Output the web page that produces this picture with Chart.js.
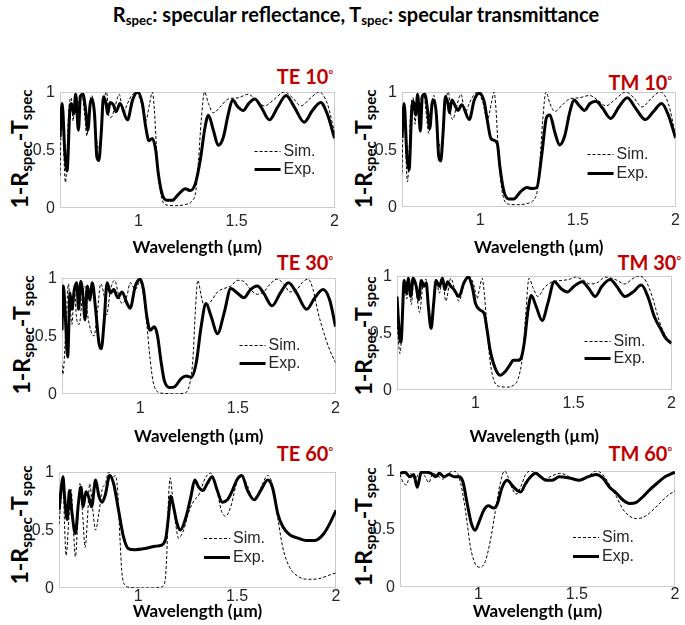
<!DOCTYPE html>
<html>
<head>
<meta charset="utf-8">
<script src="https://cdn.jsdelivr.net/npm/chart.js@4.4.1/dist/chart.umd.min.js"></script>
<style>
  html, body { margin: 0; padding: 0; background: #fff; }
  body { width: 685px; height: 625px; position: relative; overflow: hidden; }
  canvas { position: absolute; z-index: 2; }
  .txt { position: absolute; white-space: nowrap; color: #000; font-family: Lato, "Open Sans", sans-serif; font-weight: bold; z-index: 1; }
  .main { font-size: 20px; line-height: 24px; transform: translateX(-50%); }
  .main sub, .ylab sub { font-size: 0.66em; vertical-align: -0.25em; line-height: 0; }
  .ylab { font-size: 23px; line-height: 26px; transform: translate(-50%, -50%) rotate(-90deg); }
  .tag { color: #c00000; font-size: 20px; line-height: 24px; }
  .tag span { font-size: 11px; vertical-align: top; position: relative; top: -2px; }
  .ytick { position: absolute; z-index: 5; white-space: nowrap; font: 16px/18px "Liberation Sans", Arial, sans-serif; color: #262626; text-align: right; }
</style>
</head>
<body>
<div class="txt main" style="left:356px; top:2px;">R<sub>spec</sub>: specular reflectance, T<sub>spec</sub>: specular transmittance</div>
<script>
// wavelength (um), 1-Rspec-Tspec
const te10Sim = [[0.600,0.28],[0.609,0.85],[0.628,0.22],[0.645,0.85],[0.657,0.95],[0.667,0.75],[0.677,0.97],[0.689,0.80],[0.700,0.97],[0.712,0.98],[0.726,0.80],[0.737,0.62],[0.751,0.90],[0.764,0.97],[0.776,0.75],[0.790,0.55],[0.801,0.50],[0.813,0.70],[0.827,0.95],[0.838,1.00],[0.848,0.80],[0.860,0.78],[0.877,0.85],[0.902,0.98],[0.923,0.82],[0.944,0.90],[0.966,0.97],[0.987,1.00],[1.012,0.92],[1.037,0.75],[1.057,0.90],[1.071,1.00],[1.081,0.85],[1.091,0.55],[1.104,0.25],[1.121,0.07],[1.146,0.025],[1.189,0.02],[1.239,0.03],[1.273,0.06],[1.293,0.15],[1.306,0.40],[1.320,0.75],[1.337,1.00],[1.357,0.90],[1.382,0.82],[1.416,0.87],[1.458,0.94],[1.508,0.95],[1.559,0.98],[1.601,0.93],[1.643,0.88],[1.694,0.94],[1.744,1.00],[1.786,0.95],[1.828,0.88],[1.879,0.95],[1.921,1.00],[1.963,0.90],[2.000,0.65]];
const te10Exp = [[0.600,0.61],[0.611,0.90],[0.625,0.47],[0.636,0.32],[0.650,0.84],[0.658,0.90],[0.670,0.81],[0.680,0.98],[0.694,0.67],[0.704,0.96],[0.717,0.98],[0.731,0.84],[0.742,0.67],[0.754,0.90],[0.764,0.94],[0.776,0.81],[0.788,0.44],[0.798,0.41],[0.810,0.64],[0.822,0.96],[0.835,0.90],[0.843,0.81],[0.855,0.91],[0.872,0.89],[0.886,0.83],[0.906,0.90],[0.944,0.76],[0.970,0.93],[0.995,1.00],[1.020,0.90],[1.037,0.70],[1.054,0.58],[1.071,0.60],[1.088,0.50],[1.101,0.30],[1.121,0.12],[1.146,0.066],[1.172,0.066],[1.205,0.12],[1.239,0.167],[1.264,0.15],[1.290,0.21],[1.315,0.41],[1.340,0.70],[1.357,0.80],[1.382,0.67],[1.407,0.54],[1.433,0.61],[1.458,0.81],[1.480,0.93],[1.508,0.87],[1.534,0.84],[1.562,0.90],[1.593,0.94],[1.626,0.87],[1.668,0.76],[1.710,0.87],[1.753,0.97],[1.795,0.87],[1.845,0.74],[1.887,0.84],[1.929,0.91],[1.963,0.81],[2.000,0.60]];

const tm10Sim = [[0.600,0.30],[0.609,0.85],[0.628,0.22],[0.645,0.85],[0.657,0.95],[0.667,0.72],[0.677,0.97],[0.689,0.80],[0.700,0.97],[0.712,0.98],[0.726,0.78],[0.737,0.64],[0.751,0.90],[0.764,0.97],[0.776,0.75],[0.790,0.55],[0.801,0.50],[0.813,0.72],[0.827,0.95],[0.838,1.00],[0.848,0.82],[0.860,0.76],[0.877,0.86],[0.902,0.98],[0.923,0.82],[0.944,0.90],[0.966,0.97],[0.987,1.00],[1.012,0.92],[1.037,0.76],[1.057,0.90],[1.071,1.00],[1.081,0.85],[1.091,0.55],[1.104,0.25],[1.121,0.07],[1.146,0.025],[1.189,0.02],[1.239,0.03],[1.273,0.06],[1.293,0.15],[1.306,0.40],[1.320,0.75],[1.337,1.00],[1.357,0.90],[1.382,0.83],[1.416,0.88],[1.458,0.94],[1.508,0.95],[1.559,0.97],[1.601,0.93],[1.643,0.88],[1.694,0.94],[1.744,1.00],[1.786,0.95],[1.828,0.87],[1.879,0.95],[1.921,1.00],[1.963,0.90],[2.000,0.62]];
const tm10Exp = [[0.600,0.60],[0.611,0.90],[0.625,0.45],[0.636,0.32],[0.650,0.85],[0.658,0.92],[0.670,0.80],[0.680,0.98],[0.694,0.66],[0.704,0.96],[0.717,0.98],[0.731,0.84],[0.742,0.68],[0.754,0.90],[0.764,0.93],[0.776,0.80],[0.788,0.44],[0.798,0.40],[0.810,0.64],[0.822,0.96],[0.835,0.90],[0.843,0.82],[0.855,0.93],[0.872,0.88],[0.886,0.84],[0.906,0.89],[0.944,0.76],[0.970,0.93],[0.995,0.99],[1.020,0.92],[1.037,0.75],[1.054,0.60],[1.071,0.58],[1.088,0.55],[1.101,0.35],[1.121,0.14],[1.146,0.07],[1.172,0.07],[1.205,0.13],[1.239,0.17],[1.264,0.16],[1.290,0.17],[1.315,0.45],[1.340,0.78],[1.357,0.80],[1.382,0.65],[1.407,0.54],[1.433,0.62],[1.458,0.82],[1.480,0.93],[1.508,0.88],[1.534,0.84],[1.562,0.90],[1.593,0.92],[1.626,0.86],[1.668,0.77],[1.710,0.87],[1.753,0.95],[1.795,0.86],[1.845,0.76],[1.887,0.83],[1.929,0.90],[1.963,0.80],[2.000,0.60]];

const te30Sim = [[0.600,0.25],[0.604,0.17],[0.621,0.60],[0.633,0.95],[0.642,0.75],[0.651,0.60],[0.663,0.90],[0.675,0.65],[0.688,0.60],[0.705,0.85],[0.717,0.93],[0.730,0.70],[0.747,0.55],[0.764,0.50],[0.781,0.70],[0.798,0.95],[0.815,0.85],[0.828,0.68],[0.848,0.90],[0.870,0.98],[0.890,0.85],[0.907,0.78],[0.933,0.85],[0.949,0.96],[0.975,0.90],[1.000,0.97],[1.017,0.85],[1.034,0.60],[1.051,0.30],[1.067,0.10],[1.093,0.015],[1.126,0.005],[1.177,0.0],[1.228,0.01],[1.253,0.08],[1.270,0.30],[1.282,0.70],[1.295,0.98],[1.312,0.85],[1.329,0.75],[1.363,0.80],[1.396,0.88],[1.430,0.91],[1.464,0.93],[1.497,0.98],[1.531,0.97],[1.565,0.90],[1.599,0.86],[1.632,0.88],[1.666,0.95],[1.700,0.99],[1.734,0.95],[1.767,0.88],[1.801,0.90],[1.835,0.97],[1.860,0.99],[1.885,0.90],[1.911,0.70],[1.936,0.55],[1.970,0.38],[2.000,0.27]];
const te30Exp = [[0.600,0.55],[0.607,0.93],[0.617,0.67],[0.629,0.32],[0.641,0.87],[0.651,0.73],[0.663,0.90],[0.675,0.96],[0.685,0.73],[0.696,0.97],[0.708,0.84],[0.718,0.64],[0.730,0.93],[0.742,0.81],[0.755,0.96],[0.772,0.73],[0.789,0.44],[0.801,0.39],[0.815,0.61],[0.831,0.96],[0.848,0.87],[0.865,0.90],[0.885,0.83],[0.907,0.88],[0.933,0.78],[0.949,0.74],[0.975,0.93],[1.000,0.99],[1.017,0.90],[1.034,0.67],[1.051,0.55],[1.073,0.58],[1.089,0.50],[1.106,0.29],[1.123,0.12],[1.152,0.055],[1.177,0.063],[1.211,0.135],[1.236,0.155],[1.261,0.145],[1.287,0.27],[1.312,0.58],[1.337,0.78],[1.363,0.67],[1.396,0.52],[1.430,0.70],[1.464,0.91],[1.497,0.87],[1.531,0.83],[1.565,0.90],[1.599,0.93],[1.632,0.87],[1.675,0.76],[1.717,0.87],[1.759,0.96],[1.801,0.87],[1.852,0.73],[1.894,0.83],[1.936,0.90],[1.970,0.81],[2.000,0.58]];

const tm30Sim = [[0.600,0.60],[0.615,0.32],[0.626,0.55],[0.637,0.97],[0.650,0.80],[0.662,0.97],[0.673,0.75],[0.687,0.98],[0.700,0.85],[0.715,0.68],[0.732,0.92],[0.749,0.97],[0.760,0.75],[0.774,0.60],[0.787,0.80],[0.799,0.97],[0.816,0.85],[0.832,0.98],[0.849,0.78],[0.874,0.98],[0.899,0.85],[0.916,0.78],[0.941,0.92],[0.966,1.00],[0.992,0.92],[1.008,0.80],[1.022,0.90],[1.034,0.98],[1.045,0.85],[1.059,0.55],[1.075,0.25],[1.095,0.08],[1.126,0.03],[1.159,0.025],[1.193,0.04],[1.218,0.10],[1.240,0.30],[1.256,0.65],[1.273,0.98],[1.293,0.90],[1.318,0.82],[1.352,0.90],[1.394,0.95],[1.436,0.96],[1.477,0.97],[1.511,0.99],[1.544,0.97],[1.586,0.93],[1.620,0.94],[1.662,0.99],[1.712,0.97],[1.762,0.93],[1.804,0.98],[1.838,1.00],[1.871,0.95],[1.905,0.80],[1.938,0.60],[1.972,0.47],[2.000,0.42]];
const tm30Exp = [[0.600,0.82],[0.615,0.44],[0.620,0.42],[0.637,0.96],[0.648,0.85],[0.657,0.98],[0.670,0.82],[0.682,0.98],[0.698,0.91],[0.710,0.79],[0.724,0.96],[0.737,0.91],[0.749,0.94],[0.760,0.73],[0.774,0.54],[0.787,0.76],[0.799,0.96],[0.816,0.91],[0.832,0.98],[0.844,0.88],[0.858,0.95],[0.874,0.91],[0.891,0.88],[0.916,0.82],[0.941,0.94],[0.963,0.99],[0.983,0.91],[1.000,0.76],[1.025,0.70],[1.045,0.67],[1.059,0.53],[1.075,0.35],[1.101,0.19],[1.126,0.13],[1.151,0.16],[1.176,0.22],[1.193,0.26],[1.218,0.26],[1.235,0.29],[1.251,0.44],[1.268,0.70],[1.285,0.83],[1.310,0.73],[1.340,0.61],[1.369,0.76],[1.402,0.95],[1.436,0.89],[1.469,0.86],[1.503,0.91],[1.544,0.95],[1.578,0.89],[1.611,0.82],[1.645,0.91],[1.687,0.97],[1.720,0.91],[1.762,0.82],[1.804,0.86],[1.846,0.92],[1.879,0.82],[1.913,0.64],[1.946,0.53],[1.972,0.45],[2.000,0.41]];

const te60Sim = [[0.600,0.55],[0.612,0.80],[0.620,0.95],[0.628,0.55],[0.636,0.28],[0.650,0.60],[0.661,0.85],[0.673,0.50],[0.683,0.27],[0.694,0.55],[0.706,0.90],[0.719,0.65],[0.732,0.35],[0.744,0.60],[0.755,0.90],[0.769,0.70],[0.785,0.50],[0.802,0.65],[0.818,0.85],[0.835,0.90],[0.851,1.00],[0.868,0.95],[0.884,0.97],[0.896,0.85],[0.909,0.40],[0.917,0.15],[0.931,0.03],[0.959,0.005],[1.017,0.0],[1.085,0.0],[1.119,0.01],[1.136,0.06],[1.145,0.30],[1.153,0.75],[1.162,0.95],[1.173,0.80],[1.190,0.55],[1.204,0.43],[1.230,0.50],[1.255,0.65],[1.281,0.75],[1.306,0.80],[1.340,0.95],[1.366,0.99],[1.391,0.90],[1.422,0.66],[1.442,0.62],[1.468,0.70],[1.497,0.90],[1.519,0.97],[1.553,0.88],[1.578,0.78],[1.604,0.80],[1.629,0.90],[1.655,0.97],[1.680,0.88],[1.706,0.60],[1.731,0.35],[1.765,0.18],[1.808,0.10],[1.859,0.075],[1.913,0.08],[1.964,0.11],[2.000,0.13]];
const te60Exp = [[0.600,0.67],[0.612,0.87],[0.620,0.96],[0.628,0.79],[0.641,0.59],[0.653,0.84],[0.664,0.67],[0.683,0.47],[0.698,0.73],[0.711,0.87],[0.722,0.70],[0.736,0.83],[0.749,0.79],[0.765,0.70],[0.785,0.93],[0.802,0.79],[0.818,0.74],[0.835,0.81],[0.856,0.97],[0.876,0.90],[0.901,0.67],[0.926,0.44],[0.950,0.34],[0.983,0.33],[1.034,0.34],[1.085,0.36],[1.119,0.37],[1.141,0.44],[1.153,0.61],[1.165,0.79],[1.179,0.70],[1.196,0.56],[1.213,0.50],[1.238,0.59],[1.267,0.79],[1.286,0.93],[1.306,0.87],[1.327,0.84],[1.349,0.90],[1.374,0.96],[1.400,0.84],[1.425,0.74],[1.451,0.76],[1.476,0.84],[1.502,0.94],[1.524,0.97],[1.553,0.84],[1.587,0.76],[1.619,0.84],[1.655,0.93],[1.680,0.86],[1.706,0.64],[1.731,0.53],[1.765,0.46],[1.808,0.43],[1.850,0.41],[1.893,0.41],[1.939,0.47],[1.973,0.57],[2.000,0.67]];

const tm60Sim = [[0.600,0.97],[0.617,0.90],[0.633,0.88],[0.653,0.98],[0.675,0.93],[0.700,0.98],[0.725,0.96],[0.747,0.90],[0.767,0.98],[0.792,0.96],[0.817,0.93],[0.842,0.97],[0.867,1.00],[0.892,0.98],[0.908,0.90],[0.925,0.75],[0.942,0.55],[0.958,0.35],[0.983,0.20],[1.009,0.17],[1.034,0.22],[1.060,0.40],[1.085,0.65],[1.111,0.90],[1.132,1.00],[1.150,0.95],[1.171,0.85],[1.191,0.80],[1.214,0.86],[1.239,0.97],[1.265,1.00],[1.299,0.97],[1.333,0.93],[1.376,0.96],[1.419,0.98],[1.462,0.95],[1.513,0.92],[1.556,0.95],[1.598,1.00],[1.632,0.97],[1.667,0.88],[1.701,0.78],[1.735,0.67],[1.769,0.61],[1.803,0.59],[1.838,0.60],[1.872,0.64],[1.915,0.71],[1.957,0.78],[2.000,0.83]];
const tm60Exp = [[0.600,0.98],[0.625,0.99],[0.650,0.95],[0.670,0.97],[0.688,0.86],[0.708,0.99],[0.733,0.99],[0.758,0.98],[0.783,0.95],[0.800,0.98],[0.825,0.95],[0.850,0.97],[0.875,0.95],[0.900,0.95],[0.920,0.91],[0.942,0.72],[0.963,0.55],[0.983,0.49],[1.000,0.55],[1.026,0.66],[1.051,0.70],[1.077,0.68],[1.094,0.71],[1.120,0.86],[1.145,0.92],[1.179,0.86],[1.214,0.82],[1.239,0.89],[1.265,0.95],[1.291,0.98],[1.316,0.95],[1.342,0.92],[1.376,0.92],[1.410,0.95],[1.462,0.94],[1.513,0.92],[1.556,0.95],[1.598,0.97],[1.632,0.94],[1.667,0.86],[1.701,0.81],[1.735,0.75],[1.769,0.72],[1.803,0.73],[1.838,0.78],[1.872,0.84],[1.906,0.89],[1.949,0.95],[2.000,0.99]];

const panelTitles = ['TE 10', 'TM 10', 'TE 30', 'TM 30', 'TE 60', 'TM 60'];
const seriesNames = ['Sim.', 'Exp.'];
const xTicks = [1, 1.5, 2];
const yTicks = [0, 0.5, 1];
const xRange = [0.6, 2];
const yRange = [0, 1];

// layout: plot box [left, top, right, bottom] in page px
const panels = [
  { sim: te10Sim, exp: te10Exp, box: [60, 92, 337, 208], tickPad: 4, titleOff: 40, leg: 80, rows: [0.51, 0.66], ylab: [19, 149], tag: [333, 76] },
  { sim: tm10Sim, exp: tm10Exp, box: [402, 92, 678, 207], tickPad: 4, titleOff: 41, leg: 88, rows: [0.54, 0.70], ylab: [363, 149], tag: [672, 82] },
  { sim: te30Sim, exp: te30Exp, box: [62, 278, 339, 394], tickPad: 5, titleOff: 43, leg: 96, rows: [0.58, 0.73], ylab: [21, 335], tag: [333, 262] },
  { sim: tm30Sim, exp: tm30Exp, box: [397, 276, 674, 390], tickPad: 4, titleOff: 47, leg: 87, rows: [0.57, 0.72], ylab: [363, 336], tag: [681, 262] },
  { sim: te60Sim, exp: te60Exp, box: [59, 472, 336, 588], tickPad: -1, titleOff: 24, leg: 132, rows: [0.57, 0.73], ylab: [19, 525], tag: [333, 453] },
  { sim: tm60Sim, exp: tm60Exp, box: [400, 471, 675, 587], tickPad: -2, titleOff: 25, leg: 102, rows: [0.57, 0.73], ylab: [363, 527], tag: [672, 453] }
];

const PAD_TOP = 20, PAD_RIGHT = 6, Y_W = 45;
const tickFont = { family: '"Liberation Sans", Arial, sans-serif', size: 16 };

const frameAndLegend = {
  id: 'frameAndLegend',
  beforeDatasetsDraw(chart) {
    const { ctx, chartArea: a } = chart;
    ctx.save();
    ctx.strokeStyle = '#cccccc';
    ctx.lineWidth = 1;
    ctx.strokeRect(Math.round(a.left) + 0.5, Math.round(a.top) + 0.5, Math.round(a.width) - 1, Math.round(a.height) - 1);
    ctx.restore();
  },
  afterDatasetsDraw(chart, args, opts) {
    const { ctx, chartArea: a } = chart;
    ctx.save();
    ctx.font = '16px "Liberation Sans", Arial, sans-serif';
    ctx.textBaseline = 'middle';
    chart.data.datasets.forEach((ds, i) => {
      const x = a.right - opts.right;
      const y = Math.round(a.top + a.height * opts.rows[i]) + 0.5;
      ctx.beginPath();
      ctx.setLineDash(ds.borderDash || []);
      ctx.lineWidth = ds.borderWidth;
      ctx.strokeStyle = ds.borderColor;
      ctx.moveTo(x, y);
      ctx.lineTo(x + 26, y);
      ctx.stroke();
      ctx.setLineDash([]);
      ctx.fillStyle = '#262626';
      ctx.fillText(ds.label, x + 29, y);
    });
    ctx.restore();
  }
};

const toPts = arr => arr.map(p => ({ x: p[0], y: p[1] }));

panels.forEach((p, i) => {
  const [L, T, R, B] = p.box;
  const w = (R - L) + Y_W + PAD_RIGHT;
  const h = PAD_TOP + (B - T) + p.titleOff + 12;
  const cLeft = L - Y_W, cTop = T - PAD_TOP;

  const ylab = document.createElement('div');
  ylab.className = 'txt ylab';
  ylab.style.left = p.ylab[0] + 'px';
  ylab.style.top = p.ylab[1] + 'px';
  ylab.innerHTML = '1-R<sub>spec</sub>-T<sub>spec</sub>';
  document.body.appendChild(ylab);

  const tag = document.createElement('div');
  tag.className = 'txt tag';
  tag.style.right = (685 - p.tag[0]) + 'px';
  tag.style.top = (p.tag[1] - 12) + 'px';
  tag.innerHTML = panelTitles[i] + '<span>°</span>';
  document.body.appendChild(tag);

  const canvas = document.createElement('canvas');
  canvas.width = w;
  canvas.height = h;
  canvas.style.left = cLeft + 'px';
  canvas.style.top = cTop + 'px';
  canvas.style.width = w + 'px';
  canvas.style.height = h + 'px';
  document.body.appendChild(canvas);

  const chart = new Chart(canvas, {
    type: 'line',
    data: {
      datasets: [{
        label: seriesNames[0],
        data: toPts(p.sim),
        borderColor: '#000',
        borderWidth: 1,
        borderDash: [3, 2],
        pointRadius: 0,
        cubicInterpolationMode: 'monotone'
      }, {
        label: seriesNames[1],
        data: toPts(p.exp),
        borderColor: '#000',
        borderWidth: 3,
        pointRadius: 0,
        cubicInterpolationMode: 'monotone'
      }]
    },
    options: {
      responsive: false,
      animation: false,
      devicePixelRatio: 1,
      events: [],
      layout: { padding: { left: 0, top: PAD_TOP, right: PAD_RIGHT, bottom: 0 } },
      plugins: {
        legend: { display: false },
        tooltip: { enabled: false },
        frameAndLegend: { right: p.leg, rows: p.rows }
      },
      scales: {
        x: {
          type: 'linear',
          min: xRange[0],
          max: xRange[1],
          afterBuildTicks: s => { s.ticks = xTicks.map(v => ({ value: v })); },
          afterFit: s => { s.height = p.titleOff + 12; },
          grid: { display: false, drawTicks: false },
          border: { display: false },
          ticks: { autoSkip: false, maxRotation: 0, padding: p.tickPad, color: '#262626', font: tickFont, callback: v => String(v) },
          title: { display: true, text: 'Wavelength (µm)', color: '#000', padding: { top: 0, bottom: 2 }, font: { family: 'Lato, "Open Sans", sans-serif', weight: 'bold', size: 17 } }
        },
        y: {
          min: yRange[0],
          max: yRange[1],
          afterBuildTicks: s => { s.ticks = yTicks.map(v => ({ value: v })); },
          afterFit: s => { s.width = Y_W; },
          grid: { display: false, drawTicks: false },
          border: { display: false },
          ticks: { display: false }
        }
      }
    },
    plugins: [frameAndLegend]
  });

  // y tick labels as page text, placed with the chart's own y scale
  const ys = chart.scales.y;
  ys.ticks.forEach(t => {
    const d = document.createElement('div');
    d.className = 'ytick';
    d.textContent = String(t.value);
    d.style.right = (685 - (cLeft + ys.right - 5)) + 'px';
    d.style.top = Math.round(cTop + ys.getPixelForValue(t.value) - 9) + 'px';
    document.body.appendChild(d);
  });
});
</script>
</body>
</html>
